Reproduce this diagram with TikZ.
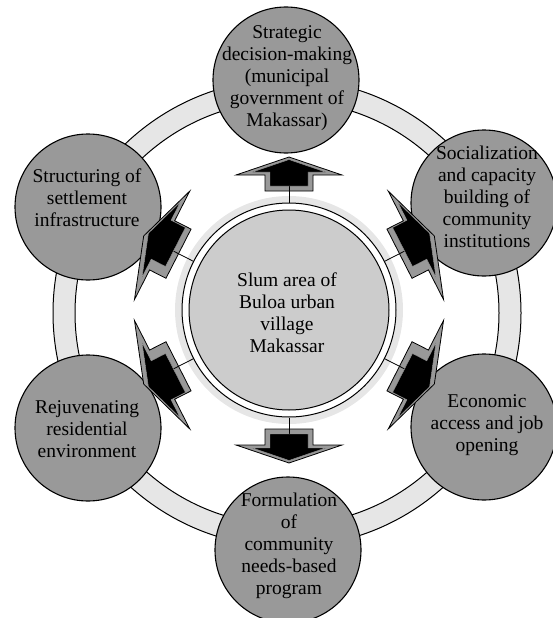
\documentclass[tikz,border=0pt]{standalone}
\usepackage{fontspec}
\setmainfont{Liberation Serif}
\definecolor{ringgray}{HTML}{E6E6E6}
\definecolor{circgray}{HTML}{999999}
\definecolor{hubgray}{HTML}{CCCCCC}
\definecolor{halogray}{HTML}{E6E6E6}
% #1 name, #2 visual angle, #3 base distance, #4 scale, #5 lateral shift of the dark face
\newcommand{\hexarrow}[5]{%
  \begin{scope}[shift={(289,310)}, rotate=#2]
  \begin{scope}[shift={(#3,0)}, scale=#4]
    \coordinate (#1) at (12,0);
    \draw[arrowout] (0,-24) -- (16,-24) -- (16,-53) -- (34,0)
      -- (16,53) -- (16,24) -- (0,24) -- cycle;
    \draw[conn] (hub) -- (#1);
    \begin{scope}[shift={(0,#5)}]
    \draw[arrowin] (5,-19) -- (19,-19) -- (19,-36.5) -- (31.4,0)
      -- (19,36.5) -- (19,19) -- (5,19) -- cycle;
    \end{scope}
  \end{scope}
  \end{scope}}
\begin{document}
\begin{tikzpicture}[x=1pt,y=-1pt,
  outercirc/.style={circle, draw=black, line width=1.1pt, fill=circgray,
    minimum size=146pt, inner sep=0pt},
  lbl/.style={align=center, font=\fontsize{19.5}{22}\selectfont, inner sep=0pt},
  arrowout/.style={draw=black, fill=circgray, line width=0.8pt, line join=miter},
  arrowin/.style={fill=black, draw=circgray, line width=0.4pt, line join=miter},
  conn/.style={draw=black, line width=0.8pt}]
\useasboundingbox (0,0) rectangle (552,618);
% outer ring
\path[fill=ringgray, draw=black, line width=1pt, even odd rule]
  (287,313) circle[radius=234pt] (287,313) circle[radius=212pt];
% hub
\fill[halogray] (289,310) circle[radius=114pt];
\node[circle, draw=black, line width=1pt, fill=white, minimum size=214pt,
  inner sep=0pt] (hub) at (289,310) {};
\draw[fill=hubgray, line width=1pt] (hub.center) circle[radius=100pt];
\node[lbl] (hubtext) at (287,313) {Slum area of\\Buloa urban\\village\\Makassar};
% outer circles
\node[outercirc] (c1) at (286,80) {};
\node[outercirc] (c2) at (484,203) {};
\node[outercirc] (c3) at (484,427) {};
\node[outercirc] (c4) at (288,550) {};
\node[outercirc] (c5) at (88,428) {};
\node[outercirc] (c6) at (88,207) {};
\node[lbl] (t1) at (287,78) {Strategic\\decision-making\\(municipal\\government of\\Makassar)};
\node[lbl] (t2) at (487,197) {Socialization\\and capacity\\building of\\community\\institutions};
\node[lbl] (t3) at (487,425) {Economic\\access and job\\opening};
\node[lbl] (t4) at (289,546) {Formulation\\of\\community\\needs-based\\program};
\node[lbl] (t5) at (87,429) {Rejuvenating\\residential\\environment};
\node[lbl] (t6) at (87,198) {Structuring of\\settlement\\infrastructure};
% arrows
\hexarrow{a1}{90}{119}{1}{0}
\hexarrow{a2}{27}{124}{1.15}{-4}
\hexarrow{a3}{-27}{124}{1.15}{4}
\hexarrow{a4}{-90}{119}{1}{0}
\hexarrow{a5}{207}{124}{1.15}{-4}
\hexarrow{a6}{153}{124}{1.15}{4}
\end{tikzpicture}
\end{document}
